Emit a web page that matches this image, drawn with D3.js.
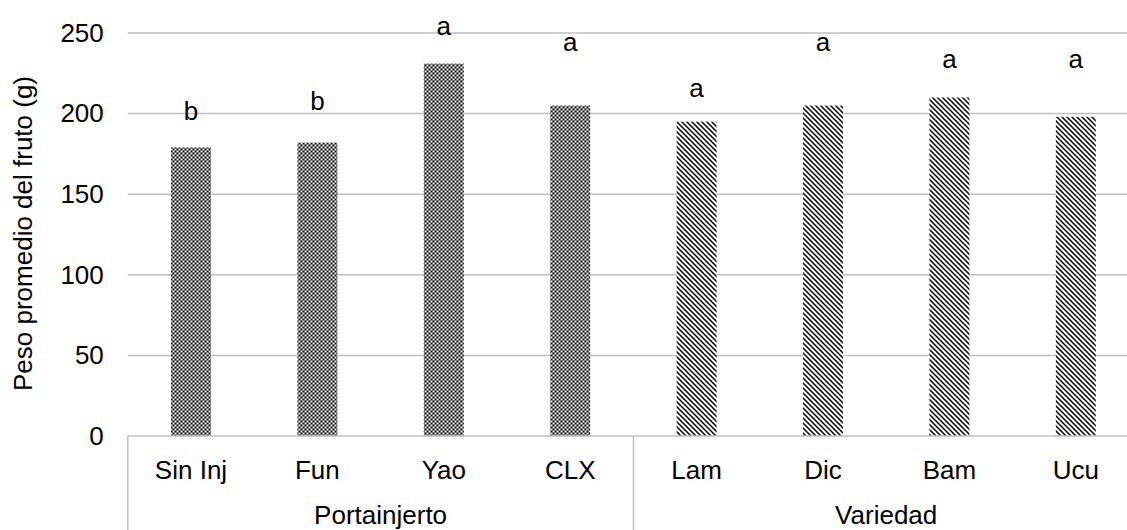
<!DOCTYPE html>
<html>
<head>
<meta charset="utf-8">
<script src="https://cdn.jsdelivr.net/npm/d3@7"></script>
<style>
  html, body { margin: 0; padding: 0; background: #fff; }
  svg { display: block; font-family: "Liberation Sans", Arial, sans-serif; }
</style>
</head>
<body>
<svg id="chart" width="1127" height="530"></svg>
<script>
const categories = ["Sin Inj", "Fun", "Yao", "CLX", "Lam", "Dic", "Bam", "Ucu"];
const groups = ["Portainjerto", "Portainjerto", "Portainjerto", "Portainjerto",
                "Variedad", "Variedad", "Variedad", "Variedad"];
const groupNames = ["Portainjerto", "Variedad"];
const values = [179, 182, 231, 205, 195, 205, 210, 198];
const letters = ["b", "b", "a", "a", "a", "a", "a", "a"];
const letterLevels = [196, 202, 249, 239, 210, 239, 228, 228];
const yTicks = [0, 50, 100, 150, 200, 250];
const yTitle = "Peso promedio del fruto (g)";

(function () {
const svg = d3.select("#chart");
const W = 1127, H = 530;
const mLeft = 127.8, mRight = 1139, mTop = 33, mBottom = 436;
const FS = 26;

// patterns
const defs = svg.append("defs");
const pc = defs.append("pattern").attr("id", "checker")
  .attr("patternUnits", "userSpaceOnUse").attr("width", 4).attr("height", 4);
pc.append("rect").attr("width", 4).attr("height", 4).attr("fill", "#fff");
pc.append("rect").attr("x", 0).attr("y", 0).attr("width", 1).attr("height", 4).attr("fill", "#777");
pc.append("rect").attr("x", 0).attr("y", 0).attr("width", 4).attr("height", 1).attr("fill", "#777");
pc.append("rect").attr("x", 1).attr("y", 1).attr("width", 1.5).attr("height", 1.5).attr("fill", "#000");
pc.append("rect").attr("x", 2.5).attr("y", 2.5).attr("width", 1.5).attr("height", 1.5).attr("fill", "#000");

const pd = defs.append("pattern").attr("id", "diag")
  .attr("patternUnits", "userSpaceOnUse").attr("width", 5).attr("height", 5);
pd.append("rect").attr("width", 5).attr("height", 5).attr("fill", "#fff");
pd.append("path").attr("d", "M-1,-1 L6,6 M-1,4 L1,6 M4,-1 L6,1")
  .attr("stroke", "#000").attr("stroke-width", 1.5);

const x = d3.scaleBand().domain(categories).range([mLeft, mRight])
  .paddingInner(0.684).paddingOuter(0.342);
const step = x.step();
const y = d3.scaleLinear().domain([0, 250]).range([mBottom, mTop]);

// gridlines
svg.append("g").selectAll("line").data(yTicks.filter(d => d > 0)).join("line")
  .attr("x1", mLeft).attr("x2", mRight)
  .attr("y1", d => y(d)).attr("y2", d => y(d))
  .attr("stroke", "#bfbfbf").attr("stroke-width", 1.5);

// y tick labels via axis
const yAxis = svg.append("g").attr("transform", `translate(${mLeft},0)`)
  .call(d3.axisLeft(y).tickValues(yTicks).tickSize(0).tickPadding(24));
yAxis.select(".domain").remove();
yAxis.selectAll("text").attr("font-size", FS).attr("fill", "#000")
  .attr("font-family", "Liberation Sans, Arial, sans-serif");

// bars
svg.append("g").selectAll("rect").data(categories).join("rect")
  .attr("x", d => x(d))
  .attr("width", x.bandwidth())
  .attr("y", (d, i) => y(values[i]))
  .attr("height", (d, i) => y(0) - y(values[i]))
  .attr("fill", (d, i) => groups[i] === "Portainjerto" ? "url(#checker)" : "url(#diag)");

// letters
svg.append("g").selectAll("text").data(categories).join("text")
  .attr("x", d => x(d) + x.bandwidth() / 2)
  .attr("y", (d, i) => y(letterLevels[i]))
  .attr("text-anchor", "middle")
  .attr("font-size", FS).attr("fill", "#000")
  .text((d, i) => letters[i]);

// category axis
const axisColor = "#bfbfbf";
svg.append("line").attr("x1", mLeft).attr("x2", mRight).attr("y1", mBottom).attr("y2", mBottom)
  .attr("stroke", axisColor).attr("stroke-width", 1.5);
const bounds = [categories[0], categories[4]].map(c => x(c) - x.paddingOuter() * step);
bounds.forEach(b => {
  svg.append("line").attr("x1", b).attr("x2", b).attr("y1", mBottom).attr("y2", H)
    .attr("stroke", axisColor).attr("stroke-width", 1.5);
});

svg.append("g").selectAll("text").data(categories).join("text")
  .attr("x", d => x(d) + x.bandwidth() / 2)
  .attr("y", 479)
  .attr("text-anchor", "middle").attr("font-size", FS).attr("fill", "#000")
  .text(d => d);

svg.append("g").selectAll("text").data(groupNames).join("text")
  .attr("x", g => {
    const cs = categories.filter((c, i) => groups[i] === g);
    const a = x(cs[0]) - x.paddingInner() * step / 2;
    const b = x(cs[cs.length - 1]) + x.bandwidth() + x.paddingInner() * step / 2;
    return (a + b) / 2;
  })
  .attr("y", 524)
  .attr("text-anchor", "middle").attr("font-size", FS).attr("fill", "#000")
  .text(d => d);

// y title
svg.append("text")
  .attr("transform", `translate(32,${(mTop + mBottom) / 2 - 1}) rotate(-90)`)
  .attr("text-anchor", "middle").attr("font-size", FS).attr("fill", "#000")
  .text(yTitle);
})();
</script>
</body>
</html>
